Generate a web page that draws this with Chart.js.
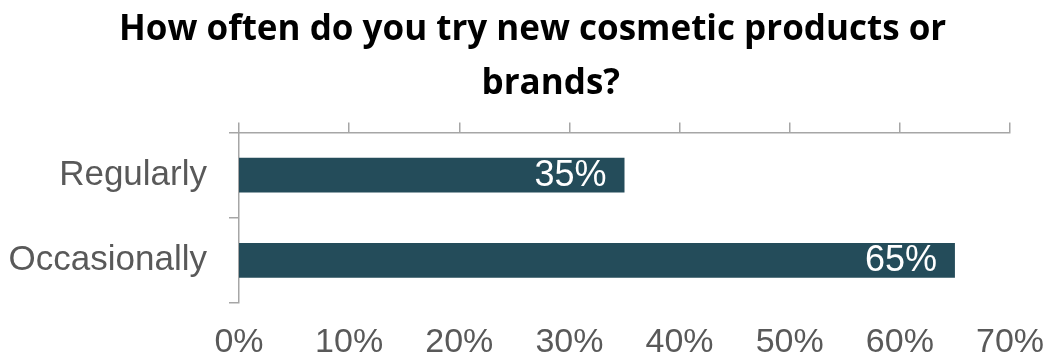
<!DOCTYPE html>
<html>
<head>
<meta charset="utf-8">
<title>How often do you try new cosmetic products or brands?</title>
<script src="https://cdn.jsdelivr.net/npm/chart.js@4.4.0/dist/chart.umd.min.js"></script>
<style>
  html, body { margin: 0; padding: 0; background: #fff; }
  #wrap { width: 1047px; height: 361px; }
</style>
</head>
<body>
<div id="wrap"><canvas id="freqChart" width="1047" height="361"></canvas></div>
<script>
// survey answers and share of respondents (%)
const answers = ['Regularly', 'Occasionally'];
const shares = [35, 65];
const xTicks = [0, 10, 20, 30, 40, 50, 60, 70];

const barColor = '#244C5A';
const axisGray = '#A6A6A6';
const textGray = '#595959';

// white value text near the end of each bar
const barValueLabels = {
  id: 'barValueLabels',
  afterDatasetsDraw(chart) {
    const ctx = chart.ctx;
    const meta = chart.getDatasetMeta(0);
    ctx.save();
    ctx.font = '36px "Liberation Sans", Arial, sans-serif';
    ctx.fillStyle = '#ffffff';
    ctx.textAlign = 'right';
    ctx.textBaseline = 'middle';
    meta.data.forEach((bar, i) => {
      ctx.fillText(shares[i] + '%', bar.x - 18, bar.y + 1);
    });
    ctx.restore();
  }
};

const ctx = document.getElementById('freqChart').getContext('2d');
new Chart(ctx, {
  type: 'bar',
  data: {
    labels: answers,
    datasets: [{
      data: shares,
      backgroundColor: barColor,
      categoryPercentage: 1,
      barPercentage: 0.41
    }]
  },
  plugins: [barValueLabels],
  options: {
    indexAxis: 'y',
    responsive: false,
    animation: false,
    layout: { padding: { left: 0, right: 0, top: 0, bottom: 0 } },
    plugins: {
      legend: { display: false },
      tooltip: { enabled: false },
      title: {
        display: true,
        // leading spaces nudge the centred lines to the right a little
        text: ['  How often do you try new cosmetic products or', '      brands?'],
        color: '#000000',
        font: { family: '"Open Sans", sans-serif', size: 35, weight: 'bold', lineHeight: 1.55 },
        padding: { top: 3, bottom: 11 }
      }
    },
    scales: {
      x: {
        type: 'linear',
        position: 'bottom',
        min: xTicks[0],
        max: xTicks[xTicks.length - 1],
        afterBuildTicks: s => { s.ticks = xTicks.map(v => ({ value: v })); },
        grid: { display: false, drawTicks: false },
        border: { display: false },
        ticks: {
          padding: 19,
          color: textGray,
          font: { family: '"Liberation Sans", Arial, sans-serif', size: 34 },
          callback: v => v + '%'
        },
        afterFit: s => { s.height = 58; s.paddingRight = 37; s.paddingLeft = 0; }
      },
      xTop: {
        type: 'linear',
        position: 'top',
        min: xTicks[0],
        max: xTicks[xTicks.length - 1],
        afterBuildTicks: s => { s.ticks = xTicks.map(v => ({ value: v })); },
        grid: { drawOnChartArea: false, drawTicks: true, tickLength: 10, color: axisGray, lineWidth: 1.5 },
        border: { display: true, color: axisGray, width: 1.5 },
        ticks: { display: false },
        afterFit: s => { s.height = 10; s.paddingRight = 0; s.paddingLeft = 0; }
      },
      y: {
        type: 'category',
        position: 'left',
        grid: { drawOnChartArea: false, drawTicks: true, tickLength: 10, offset: true, color: axisGray, lineWidth: 1.5 },
        border: { display: true, color: axisGray, width: 1.5 },
        ticks: {
          padding: 22,
          color: textGray,
          font: { family: '"Liberation Sans", Arial, sans-serif', size: 35 }
        },
        afterFit: s => { s.width = 239; }
      }
    }
  }
});
</script>
</body>
</html>
